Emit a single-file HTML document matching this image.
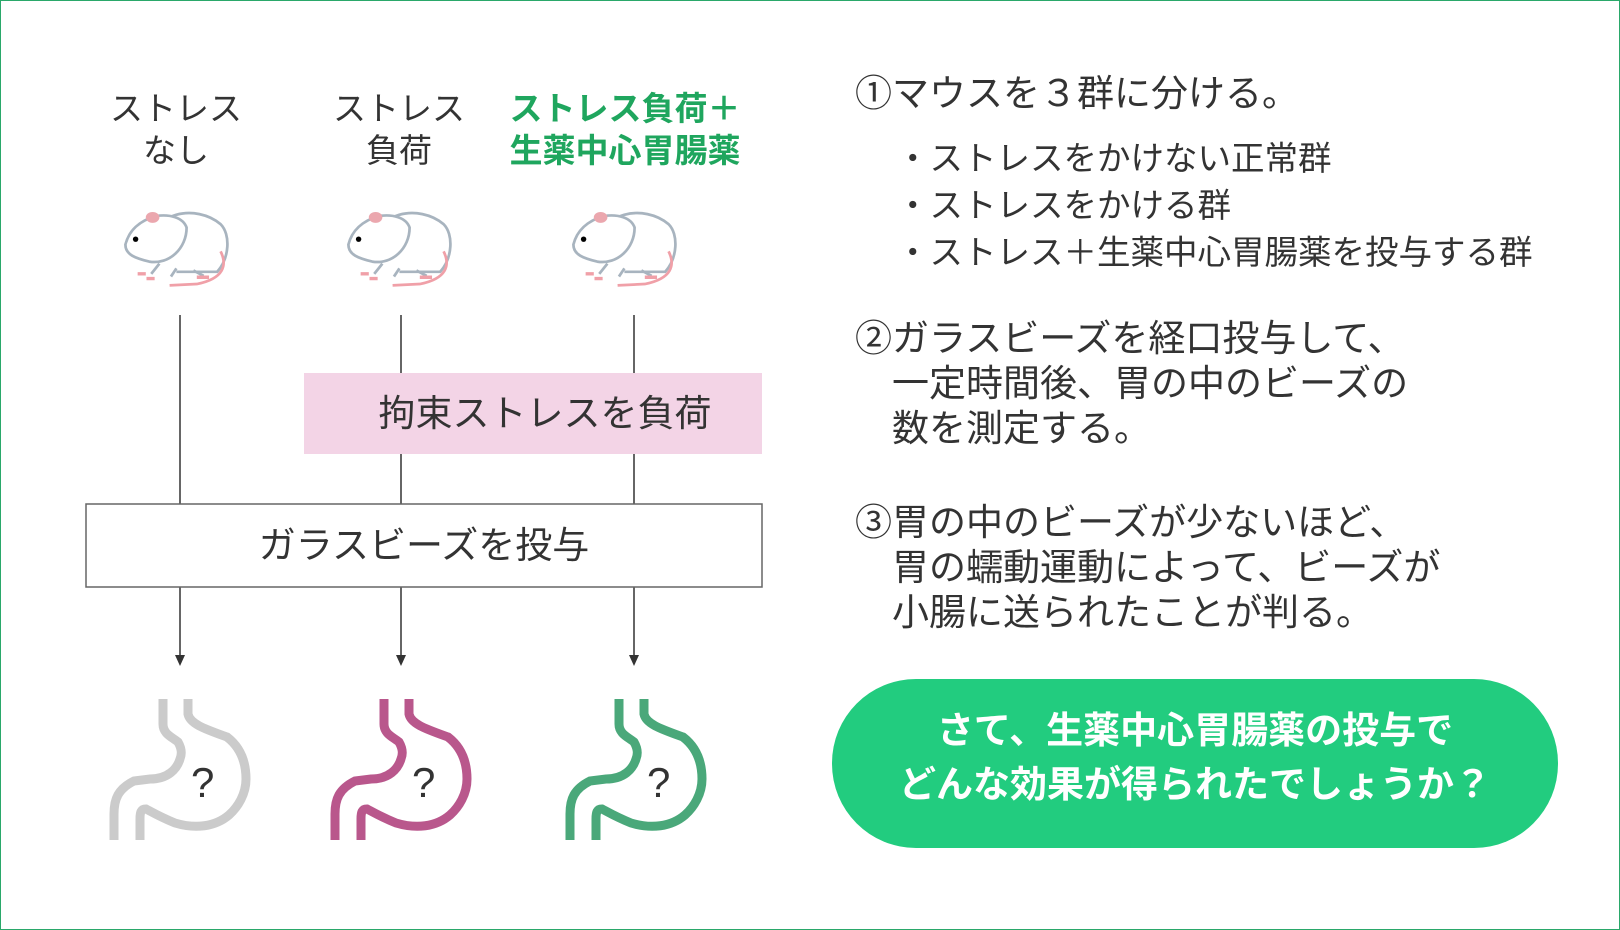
<!DOCTYPE html>
<html><head><meta charset="utf-8"><style>
body{margin:0;width:1620px;height:930px;overflow:hidden;background:#fff;font-family:"Liberation Sans","Noto Sans CJK JP",sans-serif;color:#333}
.frame{position:absolute;left:0;top:0;width:1618px;height:928px;border:1px solid #2aa86a}
.a{position:absolute;white-space:nowrap}
.c{text-align:center;transform:translateX(-50%)}
</style></head><body>
<div class="frame"></div>
<div class="a c" style="left:176px;top:88px;font-size:33px;line-height:42px">ストレス<br>なし</div>
<div class="a c" style="left:399px;top:88px;font-size:33px;line-height:42px">ストレス<br>負荷</div>
<div class="a c" style="left:625px;top:88px;font-size:33px;line-height:42px;color:#1fa65e;font-weight:bold">ストレス負荷＋<br>生薬中心胃腸薬</div>

<svg class="a" style="left:0;top:0" width="1620" height="930">
<defs>
<g id="m">
<path d="M-8 30 C-10 -30 60 -40 95 -10 C110 5 108 40 90 60 L30 60" fill="#fff" stroke="#a8b4bf" stroke-width="4"/>
<path d="M-45 20 C-40 0 -25 -15 0 -22 C20 -25 40 -20 45 -5 C45 25 20 50 -10 45 C-30 40 -45 35 -45 20Z" fill="#fff" stroke="#a8b4bf" stroke-width="4"/>
<path d="M95 30 C105 50 100 70 60 78 L20 80" fill="none" stroke="#f0a0a8" stroke-width="4"/>
<ellipse cx="-5" cy="-20" rx="10" ry="8" fill="#eba7ae"/>
<circle cx="-30" cy="12" r="4" fill="#000"/>
<path d="M5 48 l-12 15 M30 55 l-8 12 M55 58 l15 8" stroke="#a8b4bf" stroke-width="4"/>
<path d="M-15 63 h-12 M-2 70 h-12 M60 68 h18" stroke="#f0a0a8" stroke-width="5"/>
</g>
<g id="s"><path d="M53 0 L53 25 C53 35 62 38 68 43 C72 50 72 55 70 60 C67 70 58 80 40 80 L24 82 C8 90 4 100 4 115 L4 141 M78 0 L78 15 C80 25 95 30 117 38 C130 48 136 62 136 80 C136 95 128 108 119 116 C105 128 85 130 65 124 C50 118 40 112 36 110 C31 110 30 113 30 120 L30 141" fill="none" stroke-width="9"/></g>
</defs>
<use href="#m" transform="translate(156,231) scale(0.68)"/>
<use href="#m" transform="translate(379,231) scale(0.68)"/>
<use href="#m" transform="translate(604,231) scale(0.68)"/>
<g stroke="#333" stroke-width="1.5">
<line x1="180" y1="315" x2="180" y2="658"/><line x1="401" y1="315" x2="401" y2="658"/><line x1="634" y1="315" x2="634" y2="658"/>
</g>
<g fill="#333"><path d="M175 655 h10 l-5 11z"/><path d="M396 655 h10 l-5 11z"/><path d="M629 655 h10 l-5 11z"/></g>
<rect x="304" y="373" width="458" height="81" fill="#f3d4e6"/>
<rect x="86" y="504" width="676" height="83" fill="#fff" stroke="#666" stroke-width="1.5"/>
<use href="#s" x="110" y="699" stroke="#cbcbcb"/>
<use href="#s" x="331" y="699" stroke="#b9578c"/>
<use href="#s" x="566" y="699" stroke="#4aa87a"/>
<rect x="832" y="679" width="726" height="169" rx="84" fill="#22cc7f"/>
</svg>
<div class="a c" style="left:545px;top:392px;font-size:37px;line-height:44px">拘束ストレスを負荷</div>
<div class="a c" style="left:424px;top:524px;font-size:37px;line-height:44px">ガラスビーズを投与</div>
<div class="a" style="left:191px;top:758px;font-size:42px;line-height:50px">?</div>
<div class="a" style="left:412px;top:758px;font-size:42px;line-height:50px">?</div>
<div class="a" style="left:647px;top:758px;font-size:42px;line-height:50px">?</div>

<div class="a" style="left:855px;top:72px;font-size:37px;line-height:44px">①マウスを３群に分ける。</div>
<div class="a" style="left:896px;top:136px;font-size:33.5px;line-height:47px">・ストレスをかけない正常群<br>・ストレスをかける群<br>・ストレス＋生薬中心胃腸薬を投与する群</div>
<div class="a" style="left:855px;top:316px;font-size:37px;line-height:45px">②ガラスビーズを経口投与して、<br>　一定時間後、胃の中のビーズの<br>　数を測定する。</div>
<div class="a" style="left:855px;top:500px;font-size:37px;line-height:45px">③胃の中のビーズが少ないほど、<br>　胃の蠕動運動によって、ビーズが<br>　小腸に送られたことが判る。</div>
<div class="a c" style="left:1195px;top:704px;font-size:37px;line-height:54px;color:#fff;font-weight:bold">さて、生薬中心胃腸薬の投与で<br>どんな効果が得られたでしょうか？</div>
</body></html>
